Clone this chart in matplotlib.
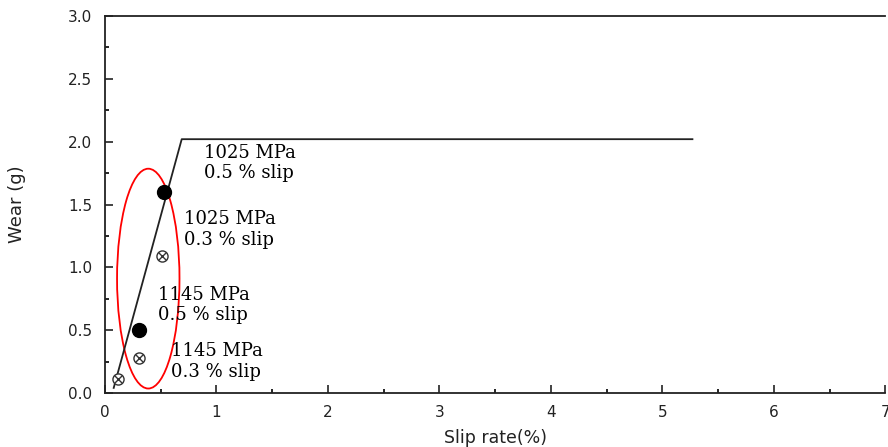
import numpy as np
import matplotlib as mpl
mpl.use('Agg')
import matplotlib.pyplot as plt
from matplotlib.patches import Ellipse

# wear trend line (slip rate %, wear g)
trend_x = [0.08, 0.69, 5.27]
trend_y = [0.04, 2.02, 2.02]

# measured points
solid_x = [0.53, 0.31]
solid_y = [1.60, 0.50]
open_x = [0.51, 0.31, 0.12]
open_y = [1.09, 0.28, 0.11]

labels = ['1025 MPa\n0.5 % slip', '1025 MPa\n0.3 % slip',
          '1145 MPa\n0.5 % slip', '1145 MPa\n0.3 % slip']
label_x = [0.89, 0.71, 0.48, 0.59]
label_y = [1.83, 1.30, 0.70, 0.25]

x_ticks = [0, 1, 2, 3, 4, 5, 6, 7]
y_ticks = [0.0, 0.5, 1.0, 1.5, 2.0, 2.5, 3.0]

fig = plt.figure(figsize=(8.88, 4.47), dpi=100)
ax = fig.add_axes([0.118, 0.121, 0.879, 0.843])

ax.plot(trend_x, trend_y, color='#222222', lw=1.3)
ax.plot(solid_x, solid_y, 'o', color='black', ms=10, ls='none')
ax.plot(open_x, open_y, 'o', mfc='white', mec='#333333', mew=1.0, ms=8, ls='none')
ax.plot(open_x, open_y, 'x', color='#333333', mew=1.0, ms=5.5, ls='none')

ax.add_patch(Ellipse((0.39, 0.91), 0.56, 1.75, fill=False, ec='red', lw=1.3))

for t, x, y in zip(labels, label_x, label_y):
    ax.text(x, y, t, family='DejaVu Serif', fontsize=13, va='center',
            ha='left', linespacing=1.2, color='black')

ax.set_xlim(0, 7)
ax.set_ylim(0, 3)
ax.set_xticks(x_ticks)
ax.set_yticks(y_ticks)
ax.set_xticks(np.arange(0.5, 7, 1.0), minor=True)
ax.set_yticks(np.arange(0.25, 3, 0.5), minor=True)
ax.set_yticklabels(['%.1f' % v for v in y_ticks])

ax.spines['right'].set_visible(False)
for s in ['left', 'bottom', 'top']:
    ax.spines[s].set_linewidth(1.3)
    ax.spines[s].set_color('#222222')

ax.tick_params(which='major', direction='in', length=6, width=1.2,
               labelsize=11, colors='#222222', top=False, right=False, pad=9)
ax.tick_params(which='minor', direction='in', length=3, width=1.2,
               top=False, right=False)

ax.set_xlabel('Slip rate(%)', fontsize=12.5, color='#222222', labelpad=6)
ax.set_ylabel('Wear (g)', fontsize=13, color='#222222', labelpad=30)

plt.savefig('out.png', dpi=100)
